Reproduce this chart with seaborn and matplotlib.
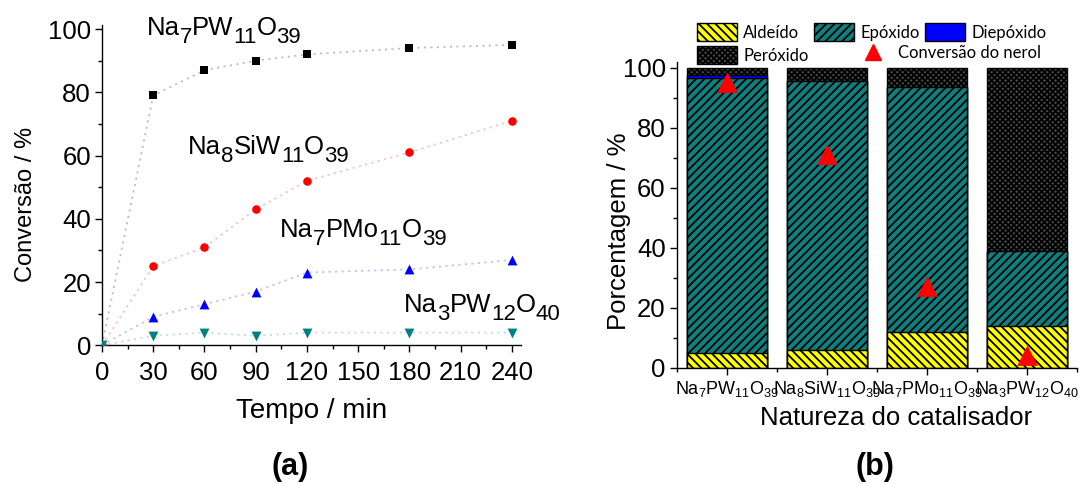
import matplotlib
matplotlib.use("Agg")
import matplotlib.pyplot as plt
from matplotlib.ticker import MultipleLocator, FixedLocator
from matplotlib.lines import Line2D
from matplotlib.patches import Patch
import numpy as np
import seaborn as sns

# ---- (a) nerol conversion over time ----
tempo = [0, 30, 60, 90, 120, 180, 240]
conv_pw11 = [0, 79, 87, 90, 92, 94, 95]
conv_siw11 = [0, 25, 31, 43, 52, 61, 71]
conv_pmo11 = [0, 9, 13, 17, 23, 24, 27]
conv_pw12 = [0, 3, 4, 3, 4, 4, 4]

# ---- (b) product distribution per catalyst ----
catalisadores = [r"Na$_7$PW$_{11}$O$_{39}$", r"Na$_8$SiW$_{11}$O$_{39}$",
                 r"Na$_7$PMo$_{11}$O$_{39}$", r"Na$_3$PW$_{12}$O$_{40}$"]
aldeido = [5, 6, 12, 14]
epoxido = [91.5, 89.5, 81.5, 25]
diepoxido = [1.2, 0, 0, 0]
peroxido = [2.3, 4.5, 6.5, 61]
conv_nerol = [95, 71, 27, 4]

sns.set_style("ticks")
plt.rcParams["font.family"] = ["Liberation Sans", "DejaVu Sans"]
plt.rcParams["mathtext.default"] = "regular"
plt.rcParams["hatch.linewidth"] = 1.3
plt.rcParams["axes.linewidth"] = 1.0
for key in ["text.color", "axes.labelcolor", "xtick.color", "ytick.color",
            "axes.edgecolor", "xtick.labelcolor", "ytick.labelcolor"]:
    plt.rcParams[key] = "black"

fig = plt.figure(figsize=(10.88, 4.84), dpi=100)
ax1 = fig.add_axes([0.09375, 0.2866, 0.3851, 0.6618])
ax2 = fig.add_axes([0.6222, 0.2397, 0.3676, 0.6329])

# ---------------- panel (a) ----------------
series = [
    (conv_pw11, "black", "s", 34),
    (conv_siw11, "#ff0000", "o", 38),
    (conv_pmo11, "#0000ff", "^", 50),
    (conv_pw12, "#008080", "v", 50),
]
for vals, col, mk, size in series:
    sns.lineplot(x=tempo, y=vals, color=col, alpha=0.25, lw=1.3,
                 linestyle=(0, (1.2, 2.4)), ax=ax1)
    sns.scatterplot(x=tempo, y=vals, color=col, marker=mk, s=size,
                    linewidth=0, ax=ax1, zorder=3)

ax1.set_xlim(0, 245.3)
ax1.set_ylim(0, 101.3)
ax1.xaxis.set_major_locator(MultipleLocator(30))
ax1.xaxis.set_minor_locator(MultipleLocator(15))
ax1.yaxis.set_major_locator(MultipleLocator(20))
ax1.yaxis.set_minor_locator(MultipleLocator(10))
ax1.tick_params(which="major", direction="out", length=5, width=1,
                labelsize=18.5, pad=3, color="black")
ax1.tick_params(which="minor", direction="out", length=3, width=1, color="black")
ax1.tick_params(axis="x", which="major", pad=6)
sns.despine(ax=ax1)

ax1.set_xlabel("Tempo / min", fontsize=20)
ax1.xaxis.label.set_va("baseline")
ax1.xaxis.set_label_coords(0.5, -0.228)
ax1.set_ylabel("Conversão / %", fontsize=17)
ax1.yaxis.label.set_va("baseline")
ax1.yaxis.set_label_coords(-0.168, 0.441)


def formula(ax, x, y, parts, size=18.5, subsize=16, drop=5.8):
    """Write a chemical formula with full-height, lowered subscripts."""
    prev = ax.text(x, y, parts[0][0], fontsize=size, va="baseline", ha="left")
    prev_sub = parts[0][1]
    for txt, sub in parts[1:]:
        dy = 0
        if sub and not prev_sub:
            dy = -drop
        elif prev_sub and not sub:
            dy = drop
        prev = ax.annotate(txt, xy=(1, 0), xycoords=prev, xytext=(0, dy),
                           textcoords="offset points",
                           fontsize=subsize if sub else size,
                           va="bottom", ha="left")
        prev_sub = sub


formula(ax1, 26, 98, [("Na", 0), ("7", 1), ("PW", 0), ("11", 1), ("O", 0), ("39", 1)])
formula(ax1, 50.5, 60.5, [("Na", 0), ("8", 1), ("SiW", 0), ("11", 1), ("O", 0), ("39", 1)])
formula(ax1, 104.4, 34.3, [("Na", 0), ("7", 1), ("PMo", 0), ("11", 1), ("O", 0), ("39", 1)])
formula(ax1, 177, 10.6, [("Na", 0), ("3", 1), ("PW", 0), ("12", 1), ("O", 0), ("40", 1)])

# ---------------- panel (b) ----------------
ald = np.array(aldeido)
epo = np.array(epoxido)
die = np.array(diepoxido)
per = np.array(peroxido)

layers = [
    (ald + epo + die + per, "#4a4a4a", "xxxxxx", "Peróxido"),
    (ald + epo + die, "#0000ff", None, "Diepóxido"),
    (ald + epo, "#0f8080", "////", "Epóxido"),
    (ald, "#ffff00", "\\\\\\\\", "Aldeído"),
]
for heights, col, hatch, _ in layers:
    sns.barplot(x=catalisadores, y=heights, color=col, saturation=1,
                edgecolor="black", linewidth=1.0, hatch=hatch, width=0.8,
                errorbar=None, ax=ax2)

sns.pointplot(x=catalisadores, y=conv_nerol, color="#ff0000", marker="^",
              markersize=11, linestyle="none", errorbar=None, ax=ax2)
for coll in ax2.collections:
    coll.set_zorder(5)
for ln in ax2.lines:
    ln.set_zorder(5)

ax2.set_xlim(-0.5, 3.5)
ax2.set_ylim(0, 102)
ax2.yaxis.set_major_locator(MultipleLocator(20))
ax2.yaxis.set_minor_locator(MultipleLocator(10))
ax2.xaxis.set_minor_locator(FixedLocator([-0.5, 0.5, 1.5, 2.5, 3.5]))
ax2.tick_params(which="major", direction="out", length=5, width=1, color="black")
ax2.tick_params(which="minor", direction="out", length=3, width=1, color="black")
ax2.tick_params(axis="y", which="major", labelsize=18.5, pad=3)
ax2.tick_params(axis="x", which="major", labelsize=13, pad=3)
sns.despine(ax=ax2)

ax2.set_xlabel("Natureza do catalisador", fontsize=18.5)
ax2.xaxis.label.set_va("baseline")
ax2.xaxis.set_label_coords(0.5475, -0.186)
ax2.set_ylabel("Porcentagem / %", fontsize=18.5)
ax2.yaxis.label.set_va("baseline")
ax2.yaxis.set_label_coords(-0.1275, 0.447)

# legends above panel (b)
leg_font = {"family": "Lato", "size": 12}
handles = {name: Patch(facecolor=col, edgecolor="black", hatch=hatch, label=name)
           for _, col, hatch, name in layers}
order = ["Aldeído", "Peróxido", "Epóxido", "Diepóxido"]
leg1 = fig.legend([handles[n] for n in order], order, ncol=3, loc="upper left",
                  bbox_to_anchor=(697.3 / 1088, 1 - 23 / 484), frameon=False,
                  prop=leg_font, handlelength=2.4, handleheight=1.3,
                  handletextpad=0.35, columnspacing=0.35, labelspacing=0.3,
                  borderpad=0, borderaxespad=0)
tri = Line2D([], [], color="#ff0000", marker="^", markersize=11, linestyle="none")
leg2 = fig.legend([tri], ["Conversão do nerol"], loc="center left",
                  bbox_to_anchor=(854 / 1088, 1 - 53 / 484), frameon=False,
                  prop=leg_font, handlelength=2.3, handletextpad=0.35,
                  borderpad=0, borderaxespad=0)

fig.text(290 / 1088, 1 - 467 / 484, "(a)", ha="center", va="center",
         fontsize=22, fontweight="bold")
fig.text(875 / 1088, 1 - 467 / 484, "(b)", ha="center", va="center",
         fontsize=22, fontweight="bold")

fig.savefig("out.png", dpi=100)
